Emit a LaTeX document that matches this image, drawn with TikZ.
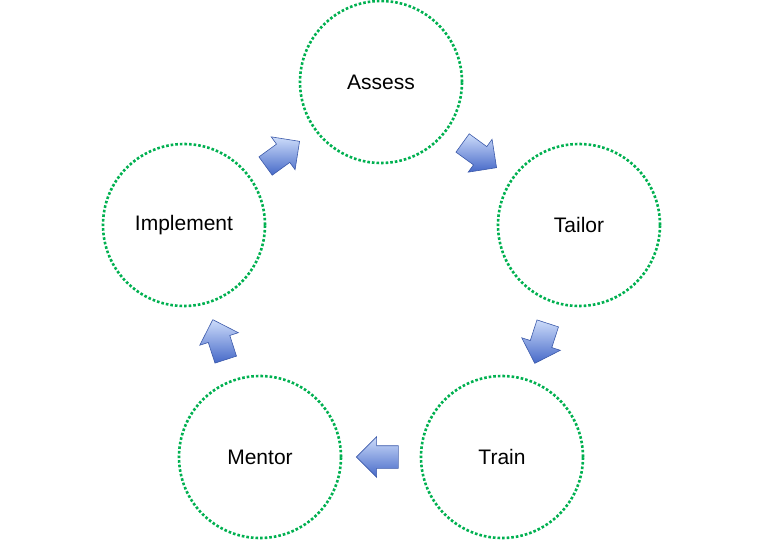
\documentclass[tikz,border=0pt]{standalone}
\usepackage{fontspec}
\setmainfont{Liberation Sans}
\usetikzlibrary{shapes.arrows}
\definecolor{ringgreen}{RGB}{0, 176, 80}
\definecolor{arrowdark}{RGB}{70, 105, 200}
\definecolor{arrowlight}{RGB}{205, 220, 250}
\definecolor{arrowedge}{RGB}{60, 90, 170}
\tikzset{
  stage/.style={circle, draw=ringgreen, line width=2.6pt, dotted,
    minimum size=162pt, inner sep=0pt, font=\fontsize{21}{24}\selectfont},
  blockarrow/.style={single arrow, draw=arrowedge, line width=0.6pt,
    top color=arrowlight, bottom color=arrowdark,
    minimum height=42pt, single arrow head extend=9pt,
    inner xsep=0pt, inner ysep=11pt, single arrow head indent=0pt}
}
\begin{document}
\begin{tikzpicture}[x=1pt, y=-1pt]
  \useasboundingbox (0,0) rectangle (763,541);

  \node[stage] (assess) at (381,82) {Assess};
  \node[stage] (tailor) at (579,225) {Tailor};
  \node[stage] (train) at (502,457) {Train};
  \node[stage] (mentor) at (260,457) {Mentor};
  \node[stage] (implement) at (184,225) {Implement};

  \node[blockarrow, rotate=-36] (toTailor) at (475,152) {};
  \node[blockarrow, rotate=-108] (toTrain) at (543,338) {};
  \node[blockarrow, rotate=180] (toMentor) at (383,457) {};
  \node[blockarrow, rotate=108] (toImplement) at (221,345) {};
  \node[blockarrow, rotate=36] (toAssess) at (278,157) {};
\end{tikzpicture}
\end{document}
